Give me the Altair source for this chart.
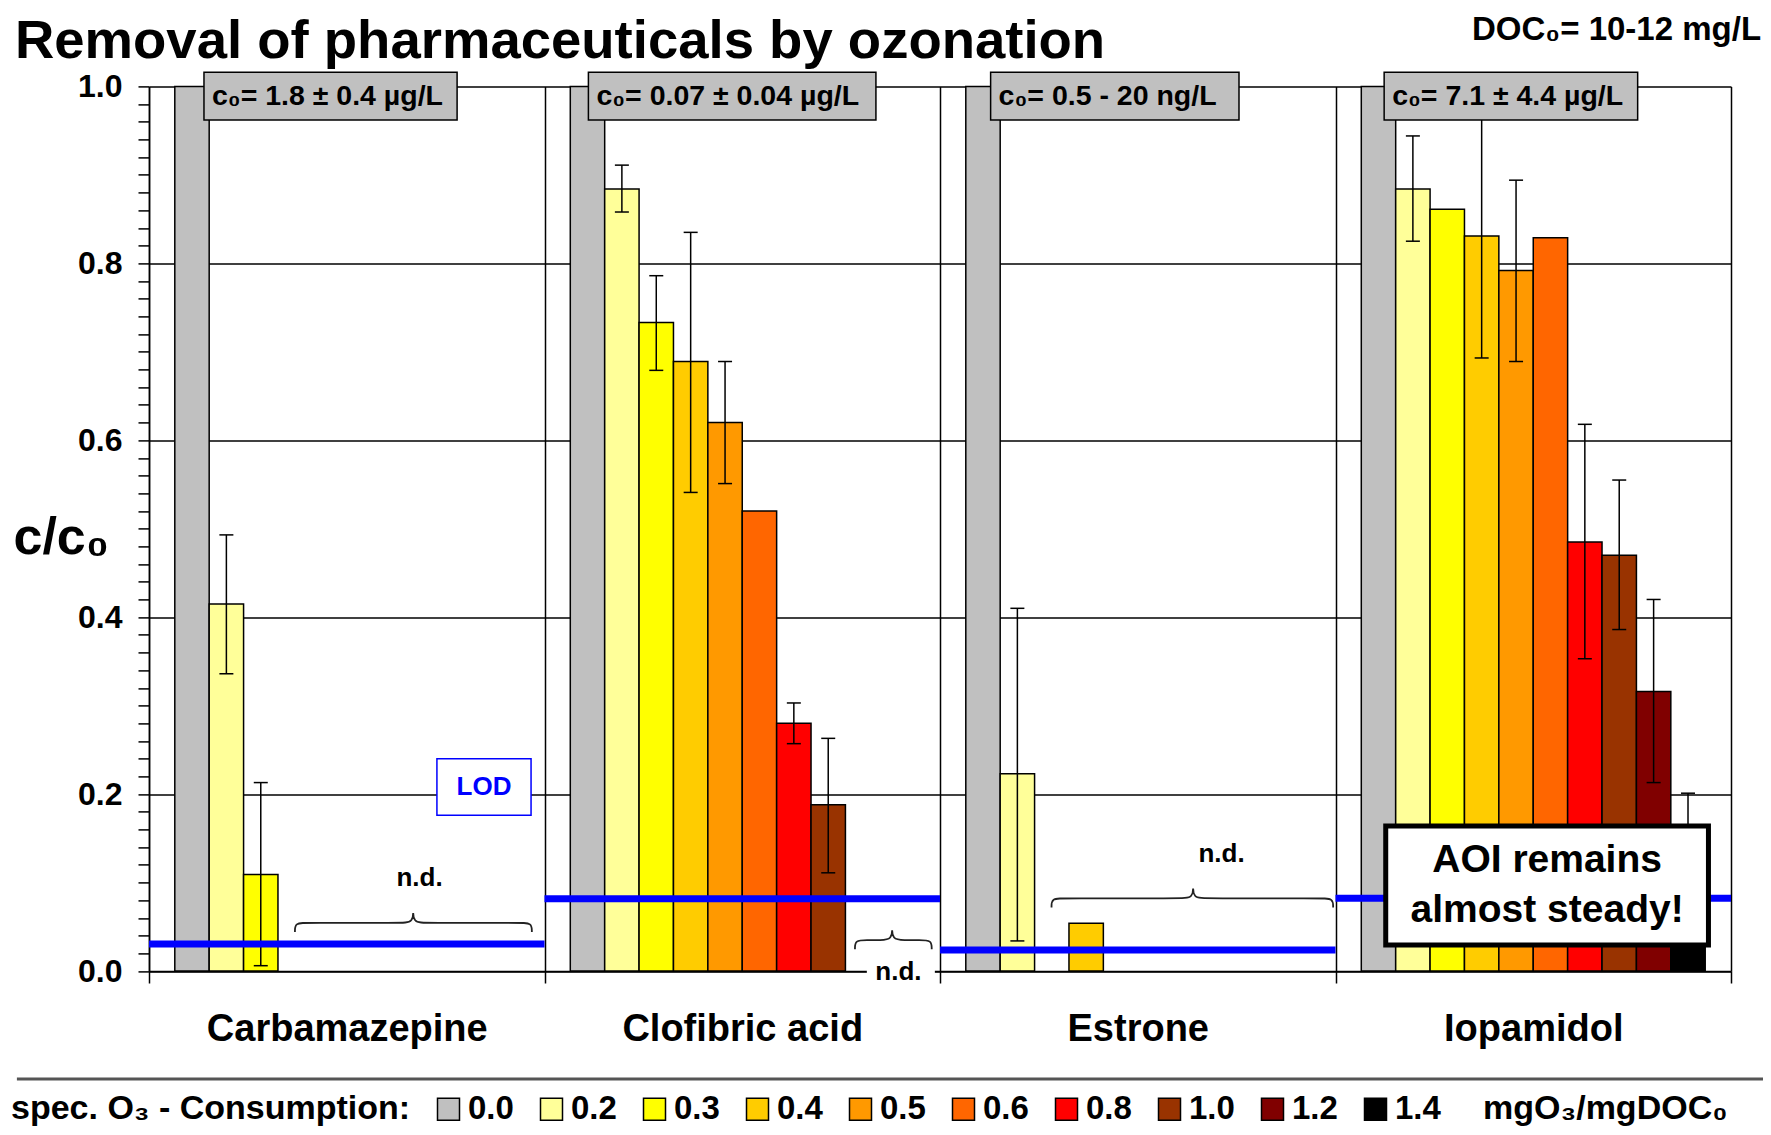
import altair as alt
import pandas as pd

FONT = "Liberation Sans, Arial, sans-serif"

# ---------------- data ----------------
compounds = ["Carbamazepine", "Clofibric acid", "Estrone", "Iopamidol"]
doses = ["0.0", "0.2", "0.3", "0.4", "0.5", "0.6", "0.8", "1.0", "1.2", "1.4"]
dose_colors = ["#C0C0C0", "#FFFF99", "#FFFF00", "#FFCC00", "#FF9900",
               "#FF6600", "#FF0000", "#993300", "#800000", "#000000"]

# c/c0 per specific ozone dose (None = not detected)
carbamazepine = [1.0, 0.415, 0.109, None, None, None, None, None, None, None]
carbamazepine_lo = [None, 0.336, 0.006, None, None, None, None, None, None, None]
carbamazepine_hi = [None, 0.493, 0.213, None, None, None, None, None, None, None]

clofibric = [1.0, 0.884, 0.733, 0.689, 0.620, 0.520, 0.280, 0.188, None, None]
clofibric_lo = [None, 0.858, 0.679, 0.541, 0.551, None, 0.257, 0.111, None, None]
clofibric_hi = [None, 0.911, 0.786, 0.835, 0.689, None, 0.303, 0.263, None, None]

estrone = [1.0, 0.223, None, 0.054, None, None, None, None, None, None]
estrone_lo = [None, 0.034, None, None, None, None, None, None, None, None]
estrone_hi = [None, 0.410, None, None, None, None, None, None, None, None]

iopamidol = [1.0, 0.884, 0.861, 0.831, 0.792, 0.829, 0.485, 0.470, 0.316, 0.100]
iopamidol_lo = [None, 0.825, None, 0.693, 0.689, None, 0.353, 0.386, 0.213, 0.0]
iopamidol_hi = [None, 0.944, None, 0.985, 0.894, None, 0.618, 0.555, 0.420, 0.201]

lod_levels = [0.0305, 0.0817, 0.0237, 0.0822]

c0_labels = ["c₀= 1.8 ± 0.4 µg/L", "c₀= 0.07 ± 0.04 µg/L",
             "c₀=  0.5 - 20 ng/L", "c₀= 7.1 ± 4.4 µg/L"]

y_ticks = [round(i * 0.02, 2) for i in range(51)]

# ---------------- annotation placement (panel units on x, c/c0 on y) ----------------
c0_box_x0 = [0.139, 1.111, 2.128, 3.123]
c0_box_x1 = [0.779, 1.838, 2.756, 3.764]
c0_box_y0 = [0.962] * 4
c0_box_y1 = [1.016] * 4

brace_x0 = [0.369, 1.785, 2.282]
brace_x1 = [0.968, 1.979, 2.994]
brace_xc = [0.668, 1.879, 2.640]
brace_y = [0.0545, 0.035, 0.0822]

nd_x = [0.684, 1.895, 2.712]
nd_y = [0.096, -0.0102, 0.1236]

# ---------------- tables ----------------
series = [(carbamazepine, carbamazepine_lo, carbamazepine_hi),
          (clofibric, clofibric_lo, clofibric_hi),
          (estrone, estrone_lo, estrone_hi),
          (iopamidol, iopamidol_lo, iopamidol_hi)]
rows = []
for comp, (vals, los, his) in zip(compounds, series):
    for d, v, lo, hi in zip(doses, vals, los, his):
        if v is not None:
            rows.append({"compound": comp, "dose": d, "value": v, "lo": lo, "hi": hi})
bars_df = pd.DataFrame(rows)
err_df = bars_df.dropna(subset=["lo", "hi"]).reset_index(drop=True)

lod_df = pd.DataFrame({"x0": [i for i in range(4)], "x1": [i + 1 for i in range(4)],
                       "lod": lod_levels})

CURL_W = 0.03
CURL_H = 0.0105
brace_rows = []
for b, (x0, x1, xc, yb) in enumerate(zip(brace_x0, brace_x1, brace_xc, brace_y)):
    pts = [(x0, yb - CURL_H), (x0, yb), (x0 + CURL_W, yb), (xc - CURL_W, yb), (xc, yb),
           (xc, yb + 1.6 * CURL_H), (xc, yb), (xc + CURL_W, yb), (x1 - CURL_W, yb),
           (x1, yb), (x1, yb - CURL_H)]
    for i, (px, py) in enumerate(pts):
        brace_rows.append({"bid": b, "i": i, "bx": px, "by": py})
brace_df = pd.DataFrame(brace_rows)

nd_df = pd.DataFrame({"x": nd_x, "y": nd_y, "t": ["n.d."] * 3})
nd_patch_df = pd.DataFrame({"x0": [1.815], "x1": [1.987], "y0": [-0.014], "y1": [0.015]})
c0_df = pd.DataFrame({"x0": c0_box_x0, "x1": c0_box_x1, "y0": c0_box_y0, "y1": c0_box_y1,
                      "ym": [(a + b) / 2 for a, b in zip(c0_box_y0, c0_box_y1)],
                      "label": c0_labels})
lod_box_df = pd.DataFrame({"x0": [0.728], "x1": [0.966], "y0": [0.176], "y1": [0.240],
                           "xm": [0.847], "ym": [0.208], "t": ["LOD"]})
aoi_box_df = pd.DataFrame({"x0": [3.127], "x1": [3.943], "y0": [0.0294], "y1": [0.164]})
aoi_text_df = pd.DataFrame({"x": [3.535, 3.535], "y": [0.1123, 0.0557],
                            "t": ["AOI remains", "almost steady!"]})
title_df = pd.DataFrame({"x": [-0.339], "y": [1.0321],
                         "t": ["Removal of pharmaceuticals by ozonation"]})
doc_df = pd.DataFrame({"x": [4.076], "y": [1.0525], "t": ["DOC₀= 10-12 mg/L"]})
sep_df = pd.DataFrame({"x0": [-0.334], "x1": [4.086], "y": [-0.122]})
unit_df = pd.DataFrame({"x": [3.373], "y": [-0.1673], "t": ["mgO₃/mgDOC₀"]})

# ---------------- scales / axes ----------------
Y_SCALE = alt.Scale(domain=[0, 1], nice=False, zero=False)
XQ = alt.Scale(domain=[0, 4], nice=False, zero=False)
XB = alt.Scale(domain=compounds, paddingInner=0, paddingOuter=0)
XOFF = alt.XOffset("dose:N", sort=doses,
                   scale=alt.Scale(domain=doses, paddingInner=0, paddingOuter=0.75))

major = "abs(datum.value*5 - round(datum.value*5)) < 0.001"
y_axis = alt.Axis(values=y_ticks, orient="left",
                  labelExpr=f"{major} ? format(datum.value, '.1f') : ''",
                  grid=True, gridColor="black", gridWidth=1.5,
                  gridOpacity={"condition": {"test": major, "value": 1}, "value": 0},
                  tickSize=11, tickWidth=1.5, tickColor="black",
                  domainColor="black", domainWidth=1.5,
                  labelFont=FONT, labelFontSize=32, labelFontWeight="bold",
                  labelColor="black", labelPadding=16, labelOverlap=False,
                  titleAngle=0, titleAlign="left", titleBaseline="alphabetic",
                  titleX=-136, titleY=466.6, titleFont=FONT, titleFontSize=52,
                  titleFontWeight="bold", titleColor="black", titleLimit=400)
x_axis = alt.Axis(tickBand="extent", grid=True, gridColor="black", gridWidth=1.5,
                  tickSize=12, tickWidth=1.5, tickColor="black",
                  domainColor="black", domainWidth=1.5,
                  labelFont=FONT, labelFontSize=38, labelFontWeight="bold",
                  labelColor="black", labelPadding=27, labelAngle=0, labelLimit=600)
legend = alt.Legend(orient="none", legendX=-138, legendY=1006, direction="horizontal",
                    title="spec. O₃ - Consumption:", titleOrient="left",
                    titleFont=FONT, titleFontSize=34, titleFontWeight="bold",
                    titleColor="black", titlePadding=21, titleBaseline="middle",
                    titleAnchor="middle", titleLimit=800,
                    labelFont=FONT, labelFontSize=33, labelFontWeight="bold",
                    labelColor="black", labelOffset=3, columnPadding=21, labelLimit=200,
                    symbolType="square", symbolSize=484, symbolStrokeColor="black",
                    symbolStrokeWidth=1.5, symbolOpacity=1, padding=0)


def qx(field):
    return alt.X(f"{field}:Q", scale=XQ, axis=None)


def qy(field):
    return alt.Y(f"{field}:Q", scale=Y_SCALE, axis=None)


# ---------------- layers ----------------
bars = alt.Chart(bars_df).mark_bar(stroke="black", strokeWidth=1.5, opacity=1).encode(
    x=alt.X("compound:N", sort=compounds, scale=XB, axis=x_axis, title=None),
    xOffset=XOFF,
    y=alt.Y("value:Q", scale=Y_SCALE, axis=y_axis, title="c/c₀"),
    color=alt.Color("dose:N", sort=doses,
                    scale=alt.Scale(domain=doses, range=dose_colors), legend=legend),
)

err_rule = alt.Chart(err_df).mark_rule(color="black", strokeWidth=1.5).encode(
    x=alt.X("compound:N", sort=compounds, scale=XB, axis=None),
    xOffset=XOFF,
    y=qy("lo"), y2="hi:Q",
)

err_caps = alt.Chart(err_df).transform_fold(["lo", "hi"], as_=["end", "yv"]).mark_tick(
    color="black", thickness=1.5, size=14, opacity=1).encode(
    x=alt.X("compound:N", sort=compounds, scale=XB, axis=None),
    xOffset=XOFF,
    y=qy("yv"),
)

lod_lines = alt.Chart(lod_df).mark_rule(color="#0000FF", strokeWidth=7).encode(
    x=qx("x0"), x2="x1:Q", y=qy("lod"))

braces = alt.Chart(brace_df).mark_line(color="#222222", strokeWidth=1.8,
                                       interpolate="basis").encode(
    x=qx("bx"), y=qy("by"), detail="bid:N", order="i:Q")

nd_patch = alt.Chart(nd_patch_df).mark_rect(fill="white").encode(
    x=qx("x0"), x2="x1:Q", y=qy("y0"), y2="y1:Q")

nd_text = alt.Chart(nd_df).mark_text(font=FONT, fontSize=26, fontWeight="bold",
                                     color="black", baseline="alphabetic").encode(
    x=qx("x"), y=qy("y"), text="t:N")

c0_boxes = alt.Chart(c0_df).mark_rect(fill="#C0C0C0", stroke="black", strokeWidth=1.5).encode(
    x=qx("x0"), x2="x1:Q", y=qy("y0"), y2="y1:Q")

c0_text = alt.Chart(c0_df).mark_text(font=FONT, fontSize=28.5, fontWeight="bold", color="black",
                                     align="left", baseline="middle", dx=8).encode(
    x=qx("x0"), y=qy("ym"), text="label:N")

lod_box = alt.Chart(lod_box_df).mark_rect(fill="white", stroke="#0000FF", strokeWidth=1.5).encode(
    x=qx("x0"), x2="x1:Q", y=qy("y0"), y2="y1:Q")

lod_text = alt.Chart(lod_box_df).mark_text(font=FONT, fontSize=26, fontWeight="bold",
                                           color="#0000FF", baseline="middle").encode(
    x=qx("xm"), y=qy("ym"), text="t:N")

aoi_box = alt.Chart(aoi_box_df).mark_rect(fill="white", stroke="black", strokeWidth=5).encode(
    x=qx("x0"), x2="x1:Q", y=qy("y0"), y2="y1:Q")

aoi_text = alt.Chart(aoi_text_df).mark_text(font=FONT, fontSize=39, fontWeight="bold",
                                            color="black", baseline="alphabetic").encode(
    x=qx("x"), y=qy("y"), text="t:N")

title_text = alt.Chart(title_df).mark_text(font=FONT, fontSize=54.5, fontWeight="bold",
                                           color="black", align="left",
                                           baseline="alphabetic").encode(
    x=qx("x"), y=qy("y"), text="t:N")

doc_text = alt.Chart(doc_df).mark_text(font=FONT, fontSize=33, fontWeight="bold",
                                       color="black", align="right",
                                       baseline="alphabetic").encode(
    x=qx("x"), y=qy("y"), text="t:N")

separator = alt.Chart(sep_df).mark_rule(color="#555555", strokeWidth=3).encode(
    x=qx("x0"), x2="x1:Q", y=qy("y"))

unit_text = alt.Chart(unit_df).mark_text(font=FONT, fontSize=34, fontWeight="bold",
                                         color="black", align="left",
                                         baseline="alphabetic").encode(
    x=qx("x"), y=qy("y"), text="t:N")

chart = alt.layer(
    bars, err_rule, err_caps, lod_lines, braces, nd_patch, nd_text,
    c0_boxes, c0_text, lod_box, lod_text, aoi_box, aoi_text,
    title_text, doc_text, separator, unit_text,
).resolve_scale(x="independent").resolve_axis(y="independent").properties(
    width=1582, height=884.6,
    autosize=alt.AutoSizeParams(type="none"),
    padding={"left": 141, "top": 78.4, "right": 32, "bottom": 156},
).configure_view(stroke=None)

chart.save("out.html", embed_options={"renderer": "svg", "actions": False})
